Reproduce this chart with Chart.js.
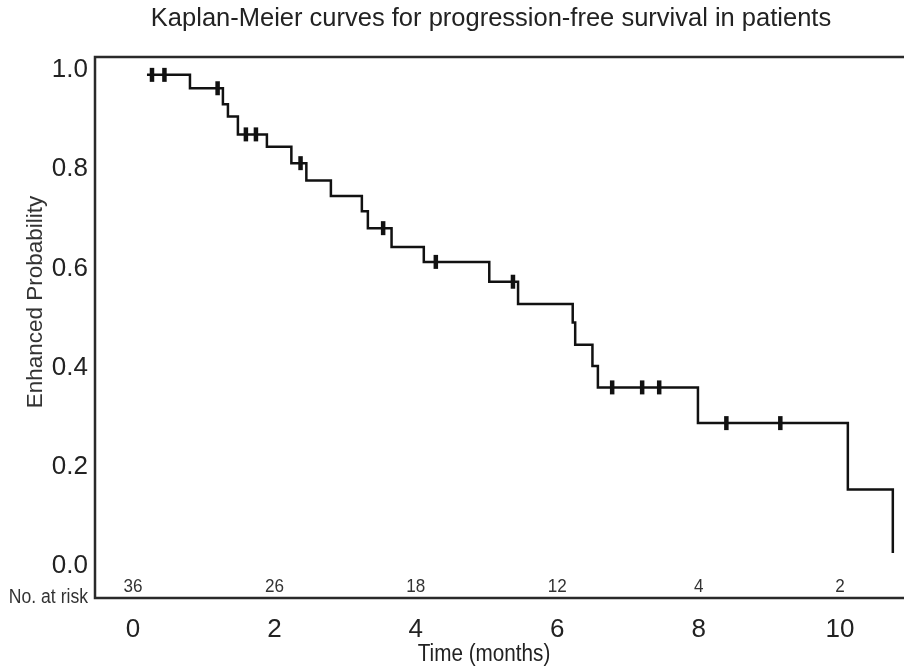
<!DOCTYPE html>
<html>
<head>
<meta charset="utf-8">
<script src="https://cdn.jsdelivr.net/npm/chart.js@4.4.1/dist/chart.umd.min.js"></script>
<style>
  html, body { margin: 0; padding: 0; background: #ffffff; }
  #wrap { width: 904px; height: 671px; }
</style>
</head>
<body>
<div id="wrap"><canvas id="c" width="904" height="671"></canvas></div>
<script>
// Kaplan-Meier step curve: event times (months) and survival after each event
const times = [0.198, 0.806, 1.272, 1.343, 1.484, 1.894, 2.240, 2.452, 2.799, 3.237, 3.322, 3.657, 4.113, 5.039, 5.446, 6.219, 6.254, 6.498, 6.575, 7.990, 10.110, 10.746];
const survival = [0.990, 0.963, 0.931, 0.906, 0.870, 0.845, 0.812, 0.777, 0.746, 0.715, 0.681, 0.643, 0.613, 0.573, 0.528, 0.491, 0.446, 0.403, 0.360, 0.288, 0.154, 0.026];
// Censored observations
const censorTimes = [0.269, 0.445, 1.197, 1.597, 1.739, 2.370, 3.538, 4.283, 5.374, 6.777, 7.201, 7.442, 8.392, 9.155];
const censorSurv = [0.990, 0.990, 0.963, 0.870, 0.870, 0.812, 0.681, 0.613, 0.573, 0.360, 0.360, 0.360, 0.288, 0.288];
// Number at risk table
const riskTimes = [0, 2, 4, 6, 8, 10];
const riskCounts = [36, 26, 18, 12, 4, 2];
// Tick labels
const xTicks = [0, 2, 4, 6, 8, 10];
const yTicks = [0.0, 0.2, 0.4, 0.6, 0.8, 1.0];

const curvePts = times.map((t, i) => ({ x: t, y: survival[i] }));
const censorPts = censorTimes.map((t, i) => ({ x: t, y: censorSurv[i] }));

const FONT = "'Liberation Sans', Arial, sans-serif";

const extras = {
  id: 'extras',
  afterLayout(chart) {
    // widen the plot area to the right edge of the canvas
    const a = chart.chartArea;
    const xs = chart.scales.x;
    a.right = 903;
    a.width = a.right - a.left;
    xs.right = 903;
    xs.width = xs.right - xs.left;
    xs.configure();
  },
  afterDraw(chart) {
    const { ctx, chartArea: a, scales: { x, y } } = chart;
    ctx.save();
    // frame (top, left, bottom; right side runs off the picture)
    ctx.strokeStyle = '#2a2a2a';
    ctx.lineWidth = 2.5;
    ctx.beginPath();
    ctx.moveTo(906, a.top);
    ctx.lineTo(a.left, a.top);
    ctx.lineTo(a.left, a.bottom);
    ctx.lineTo(906, a.bottom);
    ctx.stroke();
    // title
    ctx.fillStyle = '#222222';
    ctx.textBaseline = 'middle';
    ctx.textAlign = 'center';
    ctx.font = "25.5px " + FONT;
    ctx.fillText('Kaplan-Meier curves for progression-free survival in patients', 491, 19);
    // number at risk
    ctx.fillStyle = '#333333';
    ctx.font = "19px " + FONT;
    const ry = y.getPixelForValue(-0.042);
    riskTimes.forEach((t, i) => {
      const px = x.getPixelForValue(t);
      ctx.save();
      ctx.translate(px, ry);
      ctx.scale(0.9, 1);
      ctx.fillText(String(riskCounts[i]), 0, 0);
      ctx.restore();
    });
    ctx.save();
    ctx.translate(a.left - 7, a.bottom - 1);
    ctx.scale(0.88, 1);
    ctx.textAlign = 'right';
    ctx.font = "20px " + FONT;
    ctx.fillText('No. at risk', 0, 0);
    ctx.restore();
    // x axis title
    ctx.save();
    ctx.translate(484, 655);
    ctx.scale(0.9, 1);
    ctx.textAlign = 'center';
    ctx.font = "23px " + FONT;
    ctx.fillStyle = '#222222';
    ctx.fillText('Time (months)', 0, 0);
    ctx.restore();
    // y axis title
    ctx.save();
    ctx.translate(36, 302);
    ctx.rotate(-Math.PI / 2);
    ctx.textAlign = 'center';
    ctx.font = "22.5px " + FONT;
    ctx.fillStyle = '#333333';
    ctx.fillText('Enhanced Probability', 0, 0);
    ctx.restore();
    ctx.restore();
  }
};

new Chart(document.getElementById('c'), {
  type: 'scatter',
  data: {
    datasets: [
      {
        type: 'line',
        data: curvePts,
        stepped: true,
        borderColor: '#111111',
        borderWidth: 2.5,
        pointRadius: 0,
        fill: false,
        clip: false,
        order: 2
      },
      {
        type: 'scatter',
        data: censorPts,
        pointStyle: 'line',
        rotation: 90,
        radius: 7,
        borderWidth: 4.5,
        borderColor: '#111111',
        backgroundColor: '#111111',
        order: 1
      }
    ]
  },
  options: {
    responsive: false,
    animation: false,
    devicePixelRatio: 1,
    layout: { padding: { left: 0, right: 0, top: 57, bottom: 0 } },
    plugins: {
      legend: { display: false },
      tooltip: { enabled: false },
      title: { display: false }
    },
    scales: {
      x: {
        type: 'linear',
        min: -0.537,
        max: 10.89,
        afterBuildTicks: s => { s.ticks = xTicks.map(v => ({ value: v })); },
        afterFit: s => { s.height = 73; },
        grid: { display: false, drawTicks: false },
        border: { display: false },
        ticks: {
          color: '#222222',
          font: { family: FONT, size: 26 },
          padding: 16,
          callback: v => String(v)
        }
      },
      y: {
        type: 'linear',
        min: -0.0645,
        max: 1.026,
        afterBuildTicks: s => { s.ticks = yTicks.map(v => ({ value: v })); },
        afterFit: s => { s.width = 95; },
        grid: { display: false, drawTicks: false },
        border: { display: false },
        ticks: {
          color: '#222222',
          font: { family: FONT, size: 26 },
          padding: 7,
          callback: v => Number(v).toFixed(1)
        }
      }
    }
  },
  plugins: [extras]
});
</script>
</body>
</html>
